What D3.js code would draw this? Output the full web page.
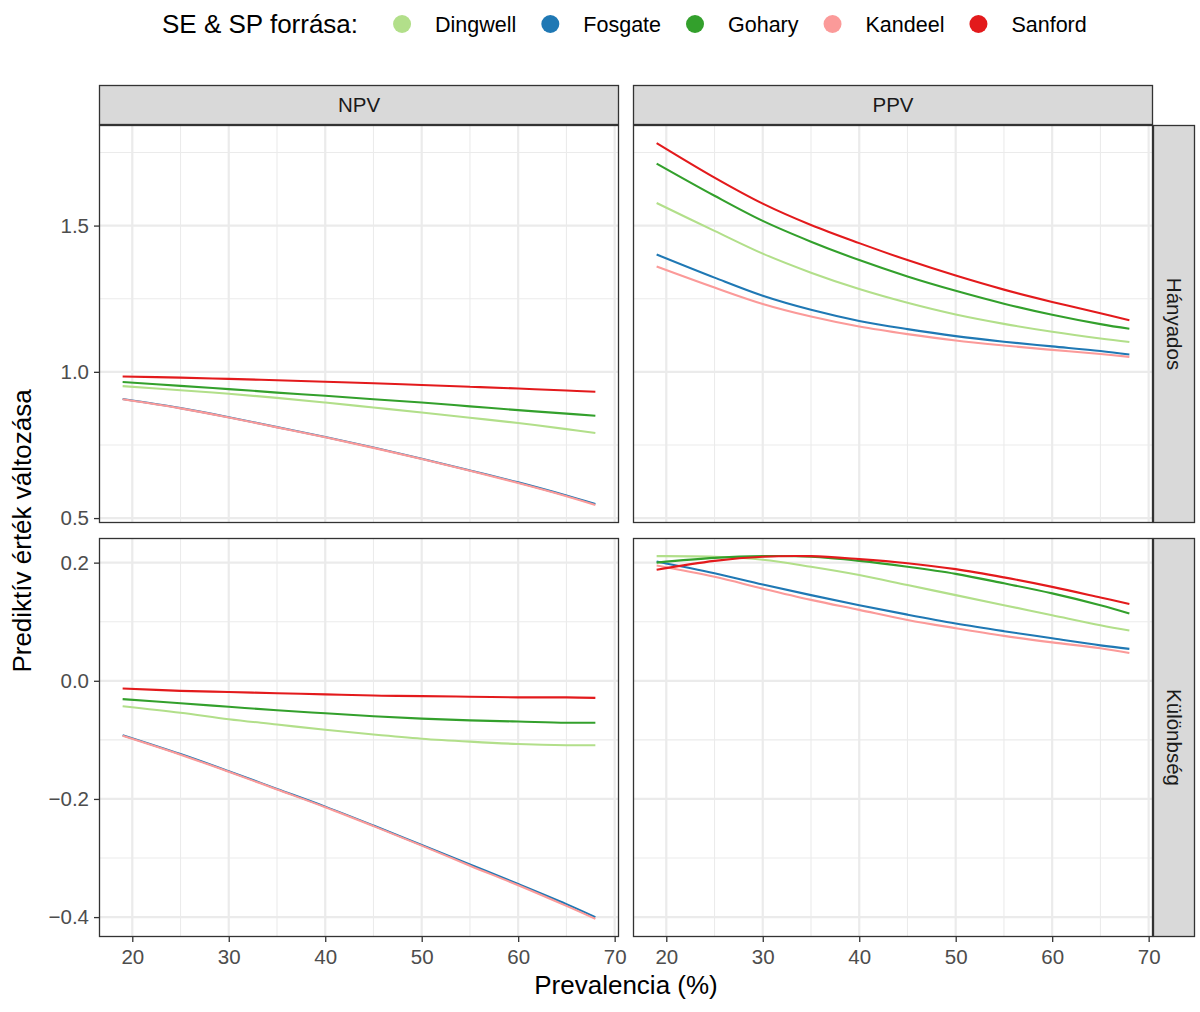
<!DOCTYPE html>
<html>
<head>
<meta charset="utf-8">
<script src="https://cdn.jsdelivr.net/npm/d3@7"></script>
<style>
  body { margin: 0; background: #fff; }
  svg text { font-family: "Liberation Sans", Arial, Helvetica, sans-serif; }
</style>
</head>
<body>
<svg id="chart" width="1200" height="1012"></svg>
<script>
// ---------------- DATA ----------------
const prevalence = [19, 25, 30, 35, 40, 45, 50, 55, 60, 65, 68];
const sources = ["Dingwell", "Fosgate", "Gohary", "Kandeel", "Sanford"];
const colLabels = ["NPV", "PPV"];
const rowLabels = ["Hányados", "Különbség"];
const xTicks = [20, 30, 40, 50, 60, 70];
const yTicksRatio = [0.5, 1.0, 1.5];
const yTicksDiff = [-0.4, -0.2, 0.0, 0.2];

// NPV – Hányados (ratio)
const npvRatioDingwell = [0.951, 0.937, 0.925, 0.911, 0.895, 0.878, 0.861, 0.843, 0.825, 0.804, 0.791];
const npvRatioFosgate  = [0.907, 0.876, 0.845, 0.811, 0.777, 0.741, 0.703, 0.663, 0.622, 0.577, 0.548];
const npvRatioGohary   = [0.965, 0.952, 0.941, 0.929, 0.918, 0.906, 0.895, 0.882, 0.869, 0.857, 0.850];
const npvRatioKandeel  = [0.906, 0.875, 0.844, 0.810, 0.776, 0.740, 0.702, 0.662, 0.620, 0.575, 0.545];
const npvRatioSanford  = [0.984, 0.980, 0.976, 0.971, 0.966, 0.961, 0.955, 0.949, 0.943, 0.936, 0.932];

// PPV – Hányados (ratio)
const ppvRatioDingwell = [1.577, 1.482, 1.404, 1.339, 1.283, 1.236, 1.196, 1.164, 1.137, 1.114, 1.102];
const ppvRatioFosgate  = [1.401, 1.322, 1.260, 1.212, 1.174, 1.146, 1.122, 1.103, 1.087, 1.071, 1.059];
const ppvRatioGohary   = [1.712, 1.602, 1.516, 1.445, 1.382, 1.326, 1.277, 1.233, 1.195, 1.163, 1.147];
const ppvRatioKandeel  = [1.360, 1.288, 1.232, 1.189, 1.155, 1.129, 1.107, 1.090, 1.075, 1.061, 1.051];
const ppvRatioSanford  = [1.782, 1.664, 1.575, 1.502, 1.440, 1.382, 1.329, 1.281, 1.239, 1.200, 1.176];

// NPV – Különbség (difference)
const npvDiffDingwell = [-0.043, -0.054, -0.065, -0.074, -0.083, -0.091, -0.098, -0.103, -0.107, -0.109, -0.109];
const npvDiffFosgate  = [-0.092, -0.124, -0.153, -0.183, -0.213, -0.245, -0.278, -0.311, -0.344, -0.378, -0.400];
const npvDiffGohary   = [-0.031, -0.038, -0.044, -0.050, -0.055, -0.060, -0.064, -0.067, -0.069, -0.071, -0.071];
const npvDiffKandeel  = [-0.093, -0.125, -0.154, -0.184, -0.214, -0.246, -0.279, -0.313, -0.346, -0.381, -0.403];
const npvDiffSanford  = [-0.013, -0.017, -0.019, -0.021, -0.023, -0.025, -0.026, -0.027, -0.028, -0.028, -0.029];

// PPV – Különbség (difference)
const ppvDiffDingwell = [0.211, 0.210, 0.205, 0.193, 0.179, 0.162, 0.145, 0.128, 0.111, 0.094, 0.085];
const ppvDiffFosgate  = [0.202, 0.182, 0.163, 0.145, 0.128, 0.112, 0.097, 0.084, 0.072, 0.060, 0.054];
const ppvDiffGohary   = [0.200, 0.208, 0.211, 0.210, 0.203, 0.193, 0.181, 0.165, 0.148, 0.128, 0.114];
const ppvDiffKandeel  = [0.195, 0.176, 0.156, 0.137, 0.120, 0.103, 0.089, 0.076, 0.065, 0.055, 0.047];
const ppvDiffSanford  = [0.188, 0.203, 0.210, 0.211, 0.206, 0.199, 0.189, 0.175, 0.159, 0.141, 0.130];

// ---------------- STYLE ----------------
const palette = ["#B2DF8A", "#1F78B4", "#33A02C", "#FB9A99", "#E31A1C"];
const panelsData = [
  [ [npvRatioDingwell, npvRatioFosgate, npvRatioGohary, npvRatioKandeel, npvRatioSanford],
    [ppvRatioDingwell, ppvRatioFosgate, ppvRatioGohary, ppvRatioKandeel, ppvRatioSanford] ],
  [ [npvDiffDingwell, npvDiffFosgate, npvDiffGohary, npvDiffKandeel, npvDiffSanford],
    [ppvDiffDingwell, ppvDiffFosgate, ppvDiffGohary, ppvDiffKandeel, ppvDiffSanford] ]
];

const svg = d3.select("#chart");
const fsBase = 26, fsSmall = 20.5, fsLegend = 21.5;

const colX = [99, 633];
const panelW = 520;
const rowY = [125, 538];
const rowH = [398, 399];
const stripTop = 85;
const stripRightX = 1153, stripW = 42;

// scales
const xMin = d3.min(prevalence), xMax = d3.max(prevalence);
const xPad = (xMax - xMin) * 0.05;
const x = d3.scaleLinear().domain([xMin - xPad, xMax + xPad]).range([0, panelW]);

function rowDomain(r) {
  const all = panelsData[r].flat(2);
  const lo = d3.min(all), hi = d3.max(all);
  const pad = (hi - lo) * 0.05;
  return [lo - pad, hi + pad];
}
const yScales = [0, 1].map(r => d3.scaleLinear().domain(rowDomain(r)).range([rowH[r], 0]));
const yTickSets = [yTicksRatio, yTicksDiff];

function minorTicks(major, domain) {
  const step = major[1] - major[0];
  const res = [];
  for (let v = major[0] - step / 2; v <= domain[1] + 1e-9; v += step) {
    if (v >= domain[0] - 1e-9) res.push(+v.toFixed(6));
  }
  return res;
}

const line = d3.line().curve(d3.curveCatmullRom.alpha(0.5));

for (let r = 0; r < 2; r++) {
  const y = yScales[r];
  const yMinor = minorTicks(yTickSets[r], y.domain()).filter(v => !yTickSets[r].some(t => Math.abs(t - v) < 1e-9));
  const xMinor = minorTicks(xTicks, x.domain()).filter(v => !xTicks.includes(v));
  for (let c = 0; c < 2; c++) {
    const g = svg.append("g").attr("transform", `translate(${colX[c]},${rowY[r]})`);
    g.append("rect").attr("width", panelW).attr("height", rowH[r]).attr("fill", "#fff");
    // minor grid
    g.selectAll(".ymin").data(yMinor).join("line")
      .attr("x1", 0).attr("x2", panelW).attr("y1", d => y(d)).attr("y2", d => y(d))
      .attr("stroke", "#EBEBEB").attr("stroke-width", 1.1);
    g.selectAll(".xmin").data(xMinor).join("line")
      .attr("y1", 0).attr("y2", rowH[r]).attr("x1", d => x(d)).attr("x2", d => x(d))
      .attr("stroke", "#EBEBEB").attr("stroke-width", 1.1);
    // major grid
    g.selectAll(".ymaj").data(yTickSets[r]).join("line")
      .attr("x1", 0).attr("x2", panelW).attr("y1", d => y(d)).attr("y2", d => y(d))
      .attr("stroke", "#EBEBEB").attr("stroke-width", 2.2);
    g.selectAll(".xmaj").data(xTicks).join("line")
      .attr("y1", 0).attr("y2", rowH[r]).attr("x1", d => x(d)).attr("x2", d => x(d))
      .attr("stroke", "#EBEBEB").attr("stroke-width", 2.2);
    // series
    panelsData[r][c].forEach((vals, i) => {
      const pts = prevalence.map((p, k) => [x(p), y(vals[k])]);
      g.append("path").attr("d", line(pts)).attr("fill", "none")
        .attr("stroke", palette[i]).attr("stroke-width", 2.1);
    });
    // border
    g.append("rect").attr("x", 0.5).attr("y", 0.5).attr("width", panelW - 1).attr("height", rowH[r] - 1)
      .attr("fill", "none").attr("stroke", "#333333").attr("stroke-width", 1.3);

    // y axis on left column
    if (c === 0) {
      const ax = g.append("g").call(d3.axisLeft(y).tickValues(yTickSets[r]).tickSize(5).tickPadding(5)
        .tickFormat(d => d3.format(".1f")(d).replace("-", "\u2212")));
      ax.select(".domain").remove();
      ax.selectAll(".tick line").attr("stroke", "#333333").attr("stroke-width", 1.3);
      ax.selectAll(".tick text").attr("fill", "#4D4D4D").style("font-size", fsSmall + "px")
        .style("font-family", "'Liberation Sans', Arial, sans-serif");
    }
    // x axis on bottom row
    if (r === 1) {
      const ax = g.append("g").attr("transform", `translate(0,${rowH[r]})`)
        .call(d3.axisBottom(x).tickValues(xTicks).tickSize(5).tickPadding(7).tickFormat(d3.format("d")));
      ax.select(".domain").remove();
      ax.selectAll(".tick line").attr("stroke", "#333333").attr("stroke-width", 1.3);
      ax.selectAll(".tick text").attr("fill", "#4D4D4D").style("font-size", fsSmall + "px")
        .style("font-family", "'Liberation Sans', Arial, sans-serif");
    }
  }
}

// top strips
colLabels.forEach((lab, c) => {
  svg.append("rect").attr("x", colX[c] + 0.5).attr("y", stripTop + 0.5)
    .attr("width", panelW - 1).attr("height", rowY[0] - stripTop - 1)
    .attr("fill", "#D9D9D9").attr("stroke", "#333333").attr("stroke-width", 1.3);
  svg.append("text").attr("x", colX[c] + panelW / 2).attr("y", (stripTop + rowY[0]) / 2 - 1)
    .attr("text-anchor", "middle").attr("dominant-baseline", "central")
    .attr("fill", "#1A1A1A").style("font-size", fsSmall + "px").text(lab);
});
// right strips
rowLabels.forEach((lab, r) => {
  svg.append("rect").attr("x", stripRightX + 0.5).attr("y", rowY[r] + 0.5)
    .attr("width", stripW - 1).attr("height", rowH[r] - 1)
    .attr("fill", "#D9D9D9").attr("stroke", "#333333").attr("stroke-width", 1.3);
  const cx = stripRightX + stripW / 2, cy = rowY[r] + rowH[r] / 2;
  svg.append("text").attr("transform", `translate(${cx},${cy}) rotate(90)`)
    .attr("text-anchor", "middle").attr("dominant-baseline", "central")
    .attr("fill", "#1A1A1A").style("font-size", fsSmall + "px").text(lab);
});

// axis titles
svg.append("text").attr("x", colX[0] + (colX[1] + panelW - colX[0]) / 2).attr("y", 994)
  .attr("text-anchor", "middle").attr("fill", "#000").style("font-size", fsBase + "px")
  .text("Prevalencia (%)");
svg.append("text").attr("transform", `translate(31,${(rowY[0] + rowY[1] + rowH[1]) / 2}) rotate(-90)`)
  .attr("text-anchor", "middle").attr("fill", "#000").style("font-size", fsBase + "px")
  .text("Prediktív érték változása");

// legend
const leg = svg.append("g");
const title = leg.append("text").attr("x", 162).attr("y", 33).attr("fill", "#000")
  .style("font-size", fsBase + "px").text("SE & SP forrása:");
let cursor = 162 + title.node().getComputedTextLength() + 44;
sources.forEach((s, i) => {
  leg.append("circle").attr("cx", cursor).attr("cy", 24).attr("r", 9).attr("fill", palette[i]);
  const t = leg.append("text").attr("x", cursor + 33).attr("y", 31.5).attr("fill", "#000")
    .style("font-size", fsLegend + "px").text(s);
  cursor = cursor + 33 + t.node().getComputedTextLength() + 34;
});
</script>
</body>
</html>
